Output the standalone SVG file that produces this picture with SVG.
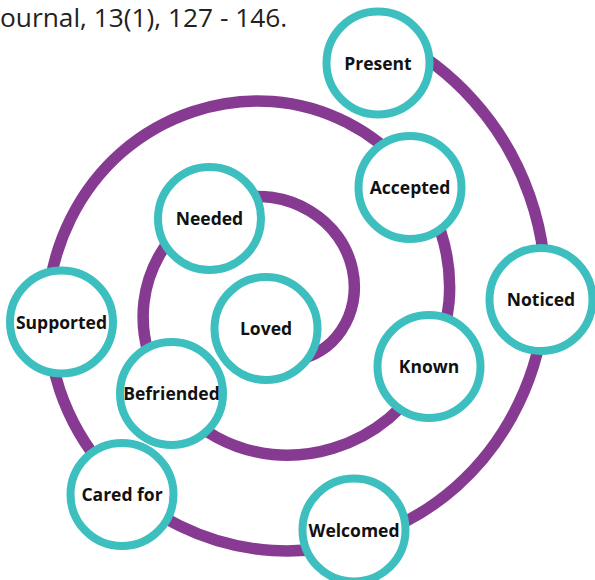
<svg xmlns="http://www.w3.org/2000/svg" width="595" height="580" viewBox="0 0 595 580">
<style>
.spiral{fill:none;stroke:#873A91;stroke-width:11.5;stroke-linecap:butt}
.node circle{fill:#FFFFFF;stroke:#3DBFBF;stroke-width:8}
.node text{font-family:"Open Sans","Noto Sans","DejaVu Sans",sans-serif;font-weight:700;font-size:17.5px;fill:#111111;text-anchor:middle}
.cite{font-family:"Open Sans","Noto Sans","DejaVu Sans",sans-serif;font-size:26.3px;fill:#222222}
</style>
<rect width="595" height="580" fill="#FFFFFF"/>
<text class="cite" x="0" y="27">ournal, 13(1), 127 - 146.</text>
<g id="connectors">
<path class="spiral" d="M 272.5 358.5 C 287.29 362.5 305.43 360.29 320.94 350.44 C 336.45 340.59 349 323.07 353 302 C 357 280.93 352.21 256.54 337.91 236.59 C 323.61 216.64 299.86 201.5 272.5 197.5 C 245.14 193.5 214.52 200.88 190.12 219.62 C 165.72 238.36 148 268.36 144 302 C 140 335.64 149.97 372.51 173.15 401.35 C 196.33 430.19 232.58 450.5 272.5 454.5 C 312.42 458.5 355.54 445.95 388.82 418.32 C 422.1 390.69 445 348.21 449 302 C 453 255.79 437.86 206.44 405.79 168.71 C 373.72 130.98 324.99 105.5 272.5 101.5 C 220.01 97.5 164.41 115.23 122.24 151.74 C 80.07 188.25 52 243.23 48 302 C 44 360.77 64.32 422.62 105.27 469.23 C 146.22 515.84 207.44 546.5 272.5 550.5 C 337.56 554.5 405.65 531.59 456.7 486.2 C 507.75 440.81 541 373.34 545 302 C 549 230.66 523.51 156.33 473.67 100.83 C 450.56 75.09 422.33 53.29 390.94 37.22"/>
</g>
<g id="node-present" class="node"><circle cx="378" cy="63" r="51.5"/><text x="378" y="69.5">Present</text></g>
<g id="node-accepted" class="node"><circle cx="410" cy="187.5" r="51.5"/><text x="410" y="194">Accepted</text></g>
<g id="node-noticed" class="node"><circle cx="541" cy="299.5" r="51.5"/><text x="541" y="306">Noticed</text></g>
<g id="node-known" class="node"><circle cx="429" cy="366.5" r="51.5"/><text x="429" y="373">Known</text></g>
<g id="node-welcomed" class="node"><circle cx="354" cy="530" r="51.5"/><text x="354" y="536.5">Welcomed</text></g>
<g id="node-loved" class="node"><circle cx="266" cy="328.5" r="51.5"/><text x="266" y="335">Loved</text></g>
<g id="node-needed" class="node"><circle cx="209.5" cy="218.5" r="51.5"/><text x="209.5" y="225">Needed</text></g>
<g id="node-befriended" class="node"><circle cx="171.5" cy="393.5" r="51.5"/><text x="171.5" y="400">Befriended</text></g>
<g id="node-supported" class="node"><circle cx="61.5" cy="322" r="51.5"/><text x="61.5" y="328.5">Supported</text></g>
<g id="node-caredfor" class="node"><circle cx="122" cy="494.5" r="51.5"/><text x="122" y="501">Cared for</text></g>
</svg>
